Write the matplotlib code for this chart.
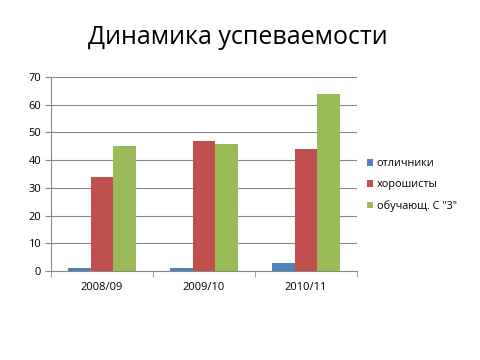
import matplotlib.pyplot as plt
import numpy as np

plt.rcParams['font.family'] = ['Open Sans', 'DejaVu Sans']

years = ["2008/09", "2009/10", "2010/11"]
series_names = ["отличники", "хорошисты", "обучающ. С \"3\""]
excellent = [1, 1, 3]
good = [34, 47, 44]
with_threes = [45, 46, 64]
colors = ["#4f81bd", "#c0504d", "#9bbb59"]

fig = plt.figure(figsize=(4.8, 3.6), dpi=100)
ax = fig.add_axes([0.106, 0.247, 0.638, 0.539])

x = np.arange(len(years))
w = 2 / 9
for i, (vals, name, c) in enumerate(zip([excellent, good, with_threes], series_names, colors)):
    ax.bar(x + (i - 1) * w, vals, width=w, color=c, label=name, zorder=3)

ax.set_xlim(-0.5, 2.5)
ax.set_ylim(0, 70)
ax.set_yticks(range(0, 71, 10))
ax.yaxis.grid(True, color="#888888", linewidth=0.8, zorder=0)
ax.set_xticks(x)
ax.set_xticklabels(years)
ax.set_xticks([-0.5, 0.5, 1.5, 2.5], minor=True)
ax.tick_params(axis="x", which="major", length=0, pad=8, labelsize=8)
ax.tick_params(axis="x", which="minor", length=4, color="#888888", direction="out")
ax.tick_params(axis="y", length=4, color="#888888", labelsize=8, pad=3)
for s in ["top", "right"]:
    ax.spines[s].set_visible(False)
for s in ["left", "bottom"]:
    ax.spines[s].set_color("#888888")

fig.text(0.495, 0.897, "Динамика успеваемости", ha="center", va="center", fontsize=18)
ax.legend(loc="center left", bbox_to_anchor=(1.0, 0.443), frameon=False,
          fontsize=7.8, handlelength=0.6, handleheight=0.6, handletextpad=0.3,
          labelspacing=0.9)

fig.savefig("out.png", dpi=100)
